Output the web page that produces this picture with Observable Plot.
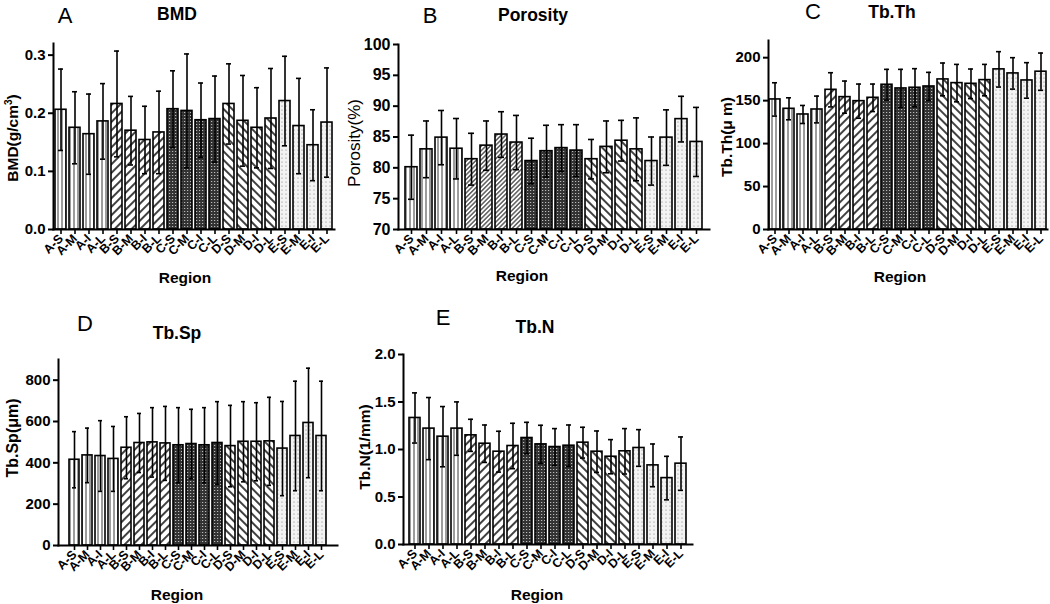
<!DOCTYPE html>
<html>
<head>
<meta charset="utf-8">
<script src="https://cdn.jsdelivr.net/npm/d3@7"></script>
<script src="https://cdn.jsdelivr.net/npm/@observablehq/plot@0.6"></script>
<style>
  html, body { margin: 0; padding: 0; background: #fff; }
  #root { position: relative; width: 1050px; height: 604px; overflow: hidden; font-family: "Liberation Sans", Arial, sans-serif; color: #000; }
  .abs { position: absolute; }
  .t { position: absolute; transform: translate(-50%, -50%); white-space: nowrap; line-height: 1; }
  .ry { position: absolute; transform: translate(-50%, -50%) rotate(-90deg); white-space: nowrap; line-height: 1; }
</style>
</head>
<body>
<div id="root">
<svg width="0" height="0" style="position:absolute">
  <defs>
    <pattern id="pA" patternUnits="userSpaceOnUse" width="4" height="10">
      <rect width="4" height="10" fill="#fff"/>
      <line x1="2" y1="0" x2="2" y2="10" stroke="#222" stroke-width="0.9"/>
    </pattern>
    <pattern id="pB" patternUnits="userSpaceOnUse" width="6" height="6" patternTransform="rotate(45)">
      <rect width="6" height="6" fill="#fff"/>
      <line x1="3" y1="0" x2="3" y2="6" stroke="#111" stroke-width="1.6"/>
    </pattern>
    <pattern id="pBf" patternUnits="userSpaceOnUse" width="3.2" height="6" patternTransform="rotate(45)">
      <rect width="3.2" height="6" fill="#fff"/>
      <line x1="1.6" y1="0" x2="1.6" y2="6" stroke="#222" stroke-width="1.1"/>
    </pattern>
    <pattern id="pC" patternUnits="userSpaceOnUse" width="3" height="3">
      <rect width="3" height="3" fill="#333"/>
      <rect x="1" y="1" width="1.2" height="1" fill="#bbb"/>
    </pattern>
    <pattern id="pD" patternUnits="userSpaceOnUse" width="6" height="6" patternTransform="rotate(-45)">
      <rect width="6" height="6" fill="#fff"/>
      <line x1="3" y1="0" x2="3" y2="6" stroke="#111" stroke-width="1.6"/>
    </pattern>
    <pattern id="pE" patternUnits="userSpaceOnUse" width="4" height="4">
      <rect width="4" height="4" fill="#f3f3f3"/>
      <circle cx="2" cy="2" r="0.6" fill="#777"/>
    </pattern>
  </defs>
</svg>
</div>
<script>
// ---------- data ----------
const regions = ["A-S","A-M","A-I","A-L","B-S","B-M","B-I","B-L","C-S","C-M","C-I","C-L","D-S","D-M","D-I","D-L","E-S","E-M","E-I","E-L"];
const groups = ["A","B","C","D","E"];

const bmdMean = [0.206,0.175,0.164,0.186,0.216,0.170,0.154,0.167,0.207,0.204,0.188,0.190,0.216,0.187,0.175,0.191,0.221,0.178,0.145,0.184];
const bmdSd   = [0.070,0.062,0.069,0.065,0.091,0.059,0.058,0.071,0.066,0.098,0.064,0.074,0.069,0.078,0.069,0.086,0.077,0.082,0.061,0.094];

const porMean = [80.1,83.0,84.9,83.1,81.4,83.6,85.4,84.1,81.1,82.7,83.2,82.8,81.4,83.4,84.4,83.0,81.1,84.9,87.9,84.2];
const porSd   = [5.2,4.6,4.4,4.9,4.2,4.0,3.7,4.4,3.7,4.2,3.8,4.2,3.2,4.2,3.3,5.1,3.9,4.5,3.7,5.6];

const thMean = [151.4,140.5,133.9,139.7,162.6,154.1,149.4,153.3,168.5,164.2,165.0,166.5,174.7,170.4,169.6,173.9,186.4,181.7,173.5,183.7];
const thSd   = [19.4,12.8,10.5,15.6,19.9,18.7,19.9,16.0,17.9,22.2,22.2,16.4,19.1,21.8,17.2,18.3,20.6,18.3,20.7,21.7];

const spMean = [415,436,433,419,473,496,499,494,485,491,485,496,481,502,502,504,469,530,593,530];
const spSd   = [136,132,171,157,150,143,168,179,182,168,182,200,197,194,189,213,228,265,265,265];

const tnMean = [1.332,1.220,1.135,1.220,1.149,1.061,0.977,1.037,1.121,1.054,1.026,1.040,1.072,0.977,0.924,0.981,1.016,0.833,0.699,0.851];
const tnSd   = [0.264,0.327,0.317,0.281,0.169,0.197,0.215,0.239,0.165,0.201,0.194,0.218,0.162,0.218,0.180,0.239,0.193,0.225,0.229,0.281];

// ---------- drawing ----------
const root = document.getElementById("root");
const FONT = '"Liberation Sans", Arial, sans-serif';

function addText(txt, x, y, size, weight, rotate) {
  const d = document.createElement("div");
  d.className = rotate ? "ry" : "t";
  d.style.left = x + "px";
  d.style.top = y + "px";
  d.style.fontSize = size + "px";
  d.style.fontWeight = weight;
  d.innerHTML = txt;
  root.appendChild(d);
}

function panel(cfg) {
  const data = regions.map((r, i) => ({region: r, group: r[0], mean: cfg.mean[i], sd: cfg.sd[i]}));
  const base = cfg.domain[0];
  const pat = Object.assign({A: "pA", B: "pB", C: "pC", D: "pD", E: "pE"}, cfg.patterns || {});
  const chart = Plot.plot({
    width: cfg.width,
    height: cfg.height,
    marginLeft: cfg.ml, marginRight: cfg.mr, marginTop: cfg.mt, marginBottom: cfg.mb,
    style: {fontFamily: FONT, fontSize: "13px", fontWeight: "bold", background: "transparent", overflow: "visible", color: "#000"},
    x: {domain: regions, paddingInner: 0.22, paddingOuter: cfg.po, label: null},
    y: {domain: cfg.domain, label: null},
    marks: [
      ...groups.map(g => Plot.barY(data.filter(d => d.group === g), {
        x: "region", y1: base, y2: "mean", fill: `url(#${pat[g]})`, stroke: "#000", strokeWidth: 1.6
      })),
      Plot.ruleX(data, {x: "region", y1: d => d.mean - d.sd, y2: d => d.mean + d.sd, stroke: "#000", strokeWidth: 1.6}),
      Plot.tickY(data, {x: "region", y: d => d.mean + d.sd, stroke: "#000", strokeWidth: 1.6, insetLeft: 3, insetRight: 3}),
      Plot.tickY(data, {x: "region", y: d => d.mean - d.sd, stroke: "#000", strokeWidth: 1.6, insetLeft: 3, insetRight: 3}),
      Plot.axisY({ticks: cfg.ticks, tickFormat: cfg.fmt, tickSize: 5, tickPadding: 3, strokeWidth: 2, fontSize: cfg.tickFont, label: null}),
      Plot.axisX({tickRotate: -45, tickSize: 5, tickPadding: 2, strokeWidth: 1.6, fontSize: 12.5, label: null}),
      Plot.frame({anchor: "left", stroke: "#000", strokeWidth: 2}),
      Plot.frame({anchor: "bottom", stroke: "#000", strokeWidth: 2})
    ]
  });
  const wrap = document.createElement("div");
  wrap.className = "abs";
  wrap.style.left = cfg.left + "px";
  wrap.style.top = cfg.top + "px";
  wrap.appendChild(chart);
  root.appendChild(wrap);
}

// Panel A: BMD
panel({mean: bmdMean, sd: bmdSd, domain: [0, 0.32], ticks: [0, 0.1, 0.2, 0.3], fmt: d3.format(".1f"),
  left: 0, top: 0, width: 340, height: 290, ml: 53, mr: 6, mt: 43, mb: 61, po: 0.0, tickFont: 15});
addText("A", 65, 16, 22, "normal");
addText("BMD", 177, 15, 17.5, "bold");
addText("BMD(g/cm<sup style='font-size:10px'>3</sup>)", 12, 138, 15.5, "bold", true);
addText("Region", 185, 278, 15.5, "bold");

// Panel B: Porosity
panel({mean: porMean, sd: porSd, domain: [70, 100], ticks: [70, 75, 80, 85, 90, 95, 100], fmt: d3.format("d"),
  left: 340, top: 0, width: 372, height: 290, ml: 58, mr: 3, mt: 44, mb: 61, po: 0.17, tickFont: 16,
  patterns: {B: "pBf"}});
addText("B", 430, 16, 22, "normal");
addText("Porosity", 533, 16, 17.5, "bold");
addText("Porosity(%)", 354, 143, 17, "normal", true);
addText("Region", 522, 276, 15.5, "bold");

// Panel C: Tb.Th
panel({mean: thMean, sd: thSd, domain: [0, 220], ticks: [0, 50, 100, 150, 200], fmt: d3.format("d"),
  left: 690, top: 0, width: 360, height: 290, ml: 78, mr: 3, mt: 40, mb: 61, po: 0.0, tickFont: 15});
addText("C", 813, 12, 22, "normal");
addText("Tb.Th", 892, 13, 17.5, "bold");
addText("Tb.Th(μ m)", 727, 137, 15.5, "bold", true);
addText("Region", 900, 277, 15.5, "bold");

// Panel D: Tb.Sp
panel({mean: spMean, sd: spSd, domain: [0, 900], ticks: [0, 200, 400, 600, 800], fmt: d3.format("d"),
  left: 0, top: 300, width: 345, height: 304, ml: 58, mr: 8, mt: 59, mb: 59, po: 0.11, tickFont: 15});
addText("D", 85, 324, 22, "normal");
addText("Tb.Sp", 177, 334, 17.5, "bold");
addText("Tb.Sp(μm)", 13, 438, 16, "bold", true);
addText("Region", 177, 595, 15.5, "bold");

// Panel E: Tb.N
panel({mean: tnMean, sd: tnSd, domain: [0, 2], ticks: [0, 0.5, 1, 1.5, 2], fmt: d3.format(".1f"),
  left: 360, top: 300, width: 340, height: 304, ml: 43, mr: 8, mt: 54, mb: 60, po: 0.22, tickFont: 15});
addText("E", 443, 318, 22, "normal");
addText("Tb.N", 535, 328, 17.5, "bold");
addText("Tb.N(1/mm)", 365, 447, 15.5, "bold", true);
addText("Region", 537, 595, 15.5, "bold");
</script>
</body>
</html>
